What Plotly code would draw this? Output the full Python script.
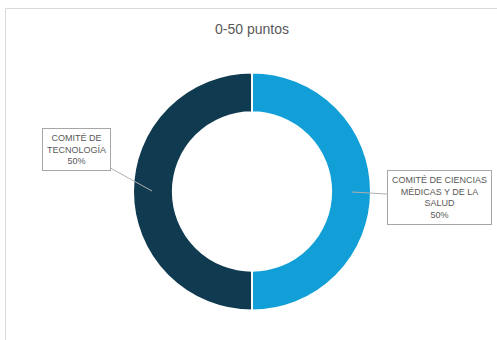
import plotly.graph_objects as go

# Committee shares for the 0-50 point band
categories = ["COMITÉ DE CIENCIAS MÉDICAS Y DE LA SALUD", "COMITÉ DE TECNOLOGÍA"]
shares = [50, 50]
label_lines = [["COMITÉ DE CIENCIAS", "MÉDICAS Y DE LA", "SALUD"], ["COMITÉ DE", "TECNOLOGÍA"]]
colors = ["#129FD7", "#0F3A4F"]
title_text = "0-50 puntos"

W, H = 497, 340

fig = go.Figure(
    go.Pie(
        labels=categories,
        values=shares,
        hole=0.665,
        sort=False,
        direction="clockwise",
        rotation=0,
        marker=dict(colors=colors, line=dict(color="#ffffff", width=2)),
        textinfo="none",
        hoverinfo="label+percent",
        showlegend=False,
        domain=dict(x=[133 / W, 371 / W], y=[(H - 310.5) / H, (H - 72.5) / H]),
    )
)

total = sum(shares)
pct = [f"{round(v / total * 100)}%" for v in shares]

# Callout labels: (arrow tip px, text offset px)
callouts = [((352, 192), (87, 5)), ((152, 191), (-76, -42))]
for lines, p, ((tx, ty), (ax, ay)) in zip(label_lines, pct, callouts):
    fig.add_annotation(
        x=tx / W, y=1 - ty / H, xref="paper", yref="paper",
        text="<br>".join(lines + [p]),
        showarrow=True, arrowhead=0, arrowwidth=1, arrowcolor="#b0b0b0",
        ax=ax, ay=ay,
        font=dict(family="Liberation Sans Narrow, Arial Narrow, Liberation Sans", size=9, color="#595959"),
        bgcolor="#ffffff", bordercolor="#a6a6a6", borderwidth=1, borderpad=4,
        align="center",
    )

# Chart area frame
fig.add_shape(type="rect", xref="paper", yref="paper",
              x0=5.5 / W, x1=1.05, y0=-0.05, y1=1 - 8.5 / H,
              line=dict(color="#d9d9d9", width=1), layer="below")

fig.update_layout(
    width=W, height=H,
    margin=dict(l=0, r=0, t=0, b=0),
    paper_bgcolor="#ffffff", plot_bgcolor="#ffffff",
    title=dict(text=title_text, x=252 / W, xanchor="center", y=1 - 29 / H, yanchor="middle",
               font=dict(family="Liberation Sans, Arial", size=14, color="#595959")),
)

fig.write_html("out.html")
